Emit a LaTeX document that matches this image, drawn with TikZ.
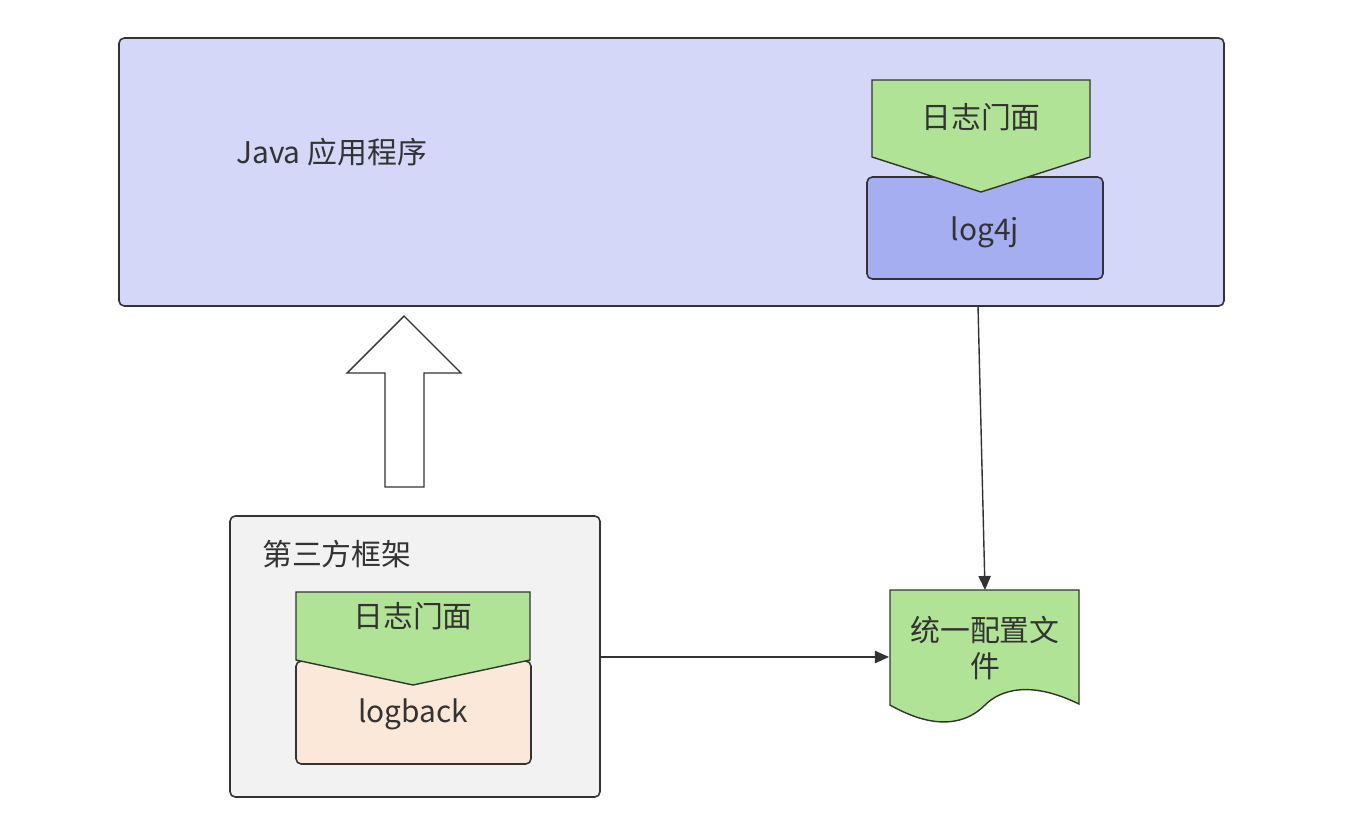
\documentclass[tikz,border=0pt]{standalone}
\usepackage{fontspec}
\setmainfont{Noto Sans CJK SC}
\usetikzlibrary{arrows.meta}
\definecolor{appbg}{HTML}{D4D7F7}
\definecolor{leaf}{HTML}{B1E396}
\definecolor{lfj}{HTML}{A4AEF0}
\definecolor{lgb}{HTML}{FCE8D8}
\definecolor{grey}{HTML}{F2F2F2}
\definecolor{edge}{HTML}{333333}
\begin{document}
\begin{tikzpicture}[x=0.02cm,y=-0.02cm,
  box/.style={draw=edge,line width=0.9pt,rounded corners=3pt},
  lbl/.style={font=\fontsize{17}{20}\selectfont,text=edge},
  arr/.style={draw=edge,line width=0.8pt,-{Triangle[length=8pt,width=7pt]}}]
\useasboundingbox (0,0) rectangle (1345,839);
% application
\draw[box,fill=appbg] (119,38) rectangle (1224,306);
\node[lbl,anchor=west] (javatxt) at (230,152) {Java 应用程序};
\draw[box,fill=lfj] (867,177) rectangle (1103,279);
\node[lbl] (log4j) at (985,232) {log4j};
\draw[draw=edge,line width=0.8pt,fill=leaf] (872,80) -- (1090,80) -- (1090,157) -- (981,192) -- (872,157) -- cycle;
\node[lbl] (facadeA) at (981,117) {日志门面};
\coordinate (appbot) at (978,306);
% hollow arrow
\draw[draw=edge,line width=0.8pt,fill=white] (404,316) -- (461,373) -- (424,373) -- (424,487) -- (385,487) -- (385,373) -- (347,373) -- cycle;
% third party
\draw[box,fill=grey] (230,516) rectangle (600,797);
\node[lbl,anchor=west] (third) at (256,554) {第三方框架};
\draw[box,fill=lgb] (296,661) rectangle (531,764);
\node[lbl] (logback) at (413,714) {logback};
\draw[draw=edge,line width=0.8pt,fill=leaf] (296,592) -- (530,592) -- (530,660) -- (413,685) -- (296,660) -- cycle;
\node[lbl] (facadeB) at (413,616) {日志门面};
\coordinate (thirdright) at (600,657);
% config document
\draw[draw=edge,line width=0.8pt,fill=leaf] (890,590) -- (1079,590) -- (1079,704)
  .. controls (1030,680) and (1000,690) .. (985,705)
  .. controls (960,730) and (925,725) .. (890,705) -- cycle;
\node[lbl,align=center] (cfg) at (985,648) {统一配置文\\件};
\coordinate (cfgtop) at (985,590);
\coordinate (cfgleft) at (889,657);
\draw[arr] (appbot) -- (cfgtop);
\draw[arr] (thirdright) -- (cfgleft);
\end{tikzpicture}
\end{document}
